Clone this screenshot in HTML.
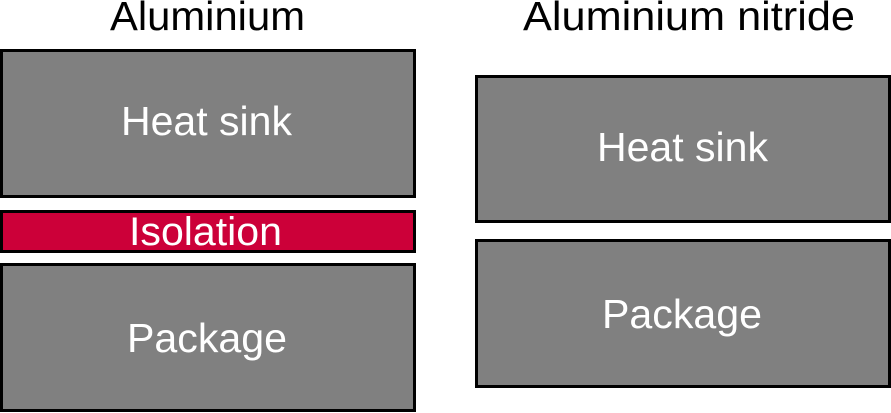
<!DOCTYPE html>
<html><head><meta charset="utf-8"><style>html,body{margin:0;padding:0;background:#fff;}svg{display:block;}</style></head>
<body>
<svg width="891" height="413" xmlns="http://www.w3.org/2000/svg" font-family="Liberation Sans, sans-serif" fill="#fff">
<rect x="1.5" y="50.5" width="413" height="146" fill="#808080" stroke="#000" stroke-width="3"/>
<rect x="1.5" y="211.5" width="413" height="40" fill="#cc0039" stroke="#000" stroke-width="3"/>
<rect x="1.5" y="264.5" width="413" height="146" fill="#808080" stroke="#000" stroke-width="3"/>
<rect x="476.5" y="76.5" width="413" height="145" fill="#808080" stroke="#000" stroke-width="3"/>
<rect x="476.5" y="240.5" width="413" height="146" fill="#808080" stroke="#000" stroke-width="3"/>
<text x="110" y="30" font-size="41" fill="#000" textLength="195" lengthAdjust="spacingAndGlyphs">Aluminium</text>
<text x="523" y="30" font-size="41" fill="#000" textLength="332" lengthAdjust="spacingAndGlyphs">Aluminium nitride</text>
<text x="121" y="135" font-size="41" textLength="171" lengthAdjust="spacingAndGlyphs">Heat sink</text>
<text x="129" y="245" font-size="40" textLength="153" lengthAdjust="spacingAndGlyphs">Isolation</text>
<text x="127" y="352" font-size="41" textLength="160" lengthAdjust="spacingAndGlyphs">Package</text>
<text x="597" y="161" font-size="41" textLength="171" lengthAdjust="spacingAndGlyphs">Heat sink</text>
<text x="602" y="328" font-size="41" textLength="160" lengthAdjust="spacingAndGlyphs">Package</text>
</svg>
</body></html>
